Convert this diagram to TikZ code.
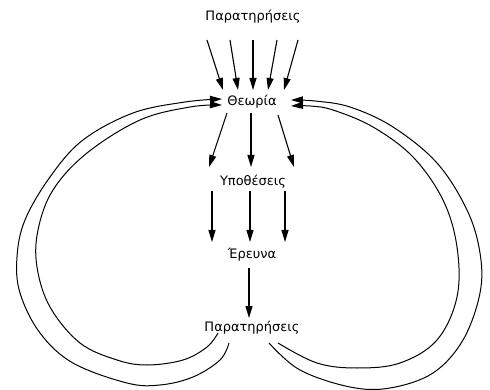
\documentclass[tikz,border=0pt]{standalone}
\usepackage{fontspec}
\setmainfont{DejaVu Sans}
\usetikzlibrary{arrows.meta}
\begin{document}
\begin{tikzpicture}[x=1pt,y=-1pt,
  lbl/.style={font=\fontsize{13}{15}\selectfont, inner sep=0pt},
  arr/.style={line width=1.1pt, -{Triangle[length=12pt,width=7pt]}},
  loopline/.style={line width=1pt, -{Triangle[length=12pt,width=7pt]}}]
\useasboundingbox (0,0) rectangle (490,390);
\node[lbl] (obs1) at (253,17) {Παρατηρήσεις};
\node[lbl] (theo) at (252,102) {Θεωρία};
\node[lbl] (hyp) at (253,182) {Υποθέσεις};
\node[lbl] (res) at (252,255) {Έρευνα};
\node[lbl] (obs2) at (252,328) {Παρατηρήσεις};
% top arrows
\coordinate (a1) at (207,40); \coordinate (b1) at (223,90);
\coordinate (a2) at (230,40); \coordinate (b2) at (238,90);
\coordinate (a3) at (253,40); \coordinate (b3) at (253,90);
\coordinate (a4) at (277,40); \coordinate (b4) at (268,90);
\coordinate (a5) at (298,40); \coordinate (b5) at (284,90);
\foreach \i in {1,...,5} \draw[arr] (a\i) -- (b\i);
% theory to hypotheses
\coordinate (c1) at (227,113); \coordinate (d1) at (209,167);
\coordinate (c2) at (251,113); \coordinate (d2) at (251,167);
\coordinate (c3) at (278,115); \coordinate (d3) at (294,167);
\foreach \i in {1,2,3} \draw[arr] (c\i) -- (d\i);
% hypotheses to research
\coordinate (e1) at (212,191); \coordinate (f1) at (212,242);
\coordinate (e2) at (250,191); \coordinate (f2) at (250,242);
\coordinate (e3) at (285,191); \coordinate (f3) at (285,242);
\foreach \i in {1,2,3} \draw[arr] (e\i) -- (f\i);
% research to observations
\coordinate (g) at (249,268); \coordinate (h) at (249,318);
\draw[arr] (g) -- (h);
% loops
\coordinate (lo) at (229,343); \coordinate (lot) at (222,99);
\coordinate (li) at (218,333); \coordinate (lit) at (222,105);
\coordinate (ro) at (269,343); \coordinate (rot) at (291,100);
\coordinate (ri) at (278,343); \coordinate (rit) at (291,106);
\draw[loopline] plot[smooth,tension=0.6] coordinates {(lo) (220,360) (193,377) (160,385) (127,383) (73,363) (40,333) (20,293) (17,257) (25,220) (50,177) (83,140) (133,113) (185,102) (lot)};
\draw[loopline] plot[smooth,tension=0.6] coordinates {(li) (207,347) (183,360) (147,365) (117,360) (80,343) (50,307) (37,267) (38,230) (53,190) (87,153) (140,120) (190,107) (lit)};
\draw[loopline] plot[smooth,tension=0.6] coordinates {(ro) (300,370) (350,387) (390,388) (433,373) (463,340) (480,293) (480,253) (467,210) (437,163) (393,127) (350,107) (315,101) (rot)};
\draw[loopline] plot[smooth,tension=0.6] coordinates {(ri) (317,363) (357,368) (400,363) (437,340) (457,297) (457,247) (443,200) (413,157) (373,127) (333,110) (310,106) (rit)};
\end{tikzpicture}
\end{document}
